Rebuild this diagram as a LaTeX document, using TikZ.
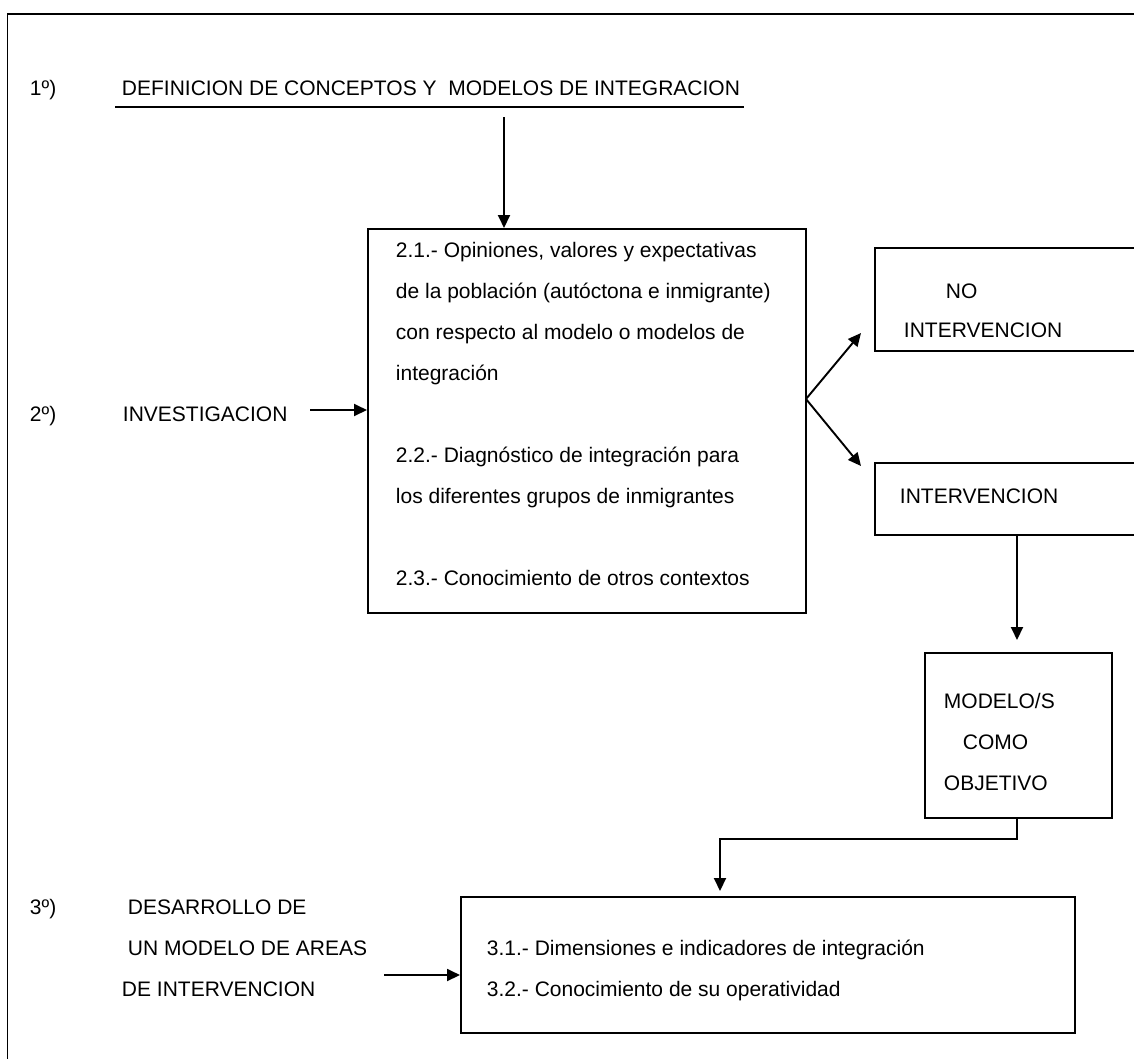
\documentclass[tikz,border=0pt]{standalone}
\usepackage{fontspec}
\setmainfont{Liberation Sans}
\usetikzlibrary{arrows.meta}
\begin{document}
\begin{tikzpicture}[x=1pt,y=-1pt,line width=1.9pt,
  txt/.style={font=\fontsize{21}{25}\selectfont, inner sep=0pt, anchor=base west},
  boxnode/.style={draw, line width=1.9pt, inner sep=0pt, anchor=north west},
  arr/.style={-{Triangle[length=13pt,width=12pt]}, line width=1.9pt}]
\useasboundingbox (0,0) rectangle (1134,1058);
\clip (0,0) rectangle (1134,1058);
% frame (open on the right and at the bottom)
\draw (1200,14) -- (7.5,14) -- (7.5,1100);

% step 1
\node[txt] (n1) at (29,95) {1º)};
\node[txt] (t1) at (121,95) {DEFINICION DE CONCEPTOS Y\ \ MODELOS DE INTEGRACION};
\coordinate (ulA) at (115,107);
\coordinate (ulB) at (744,107);
\draw (ulA) -- (ulB);

% step 2
\node[txt] (n2) at (29,421) {2º)};
\node[txt] (t2) at (122,421) {INVESTIGACION};

\node[boxnode, minimum width=438pt, minimum height=384pt] (b2) at (367,228) {};
\node[txt] (l1) at (395,257) {2.1.- Opiniones, valores y expectativas};
\node[txt] (l2) at (395,298) {de la población (autóctona e inmigrante)};
\node[txt] (l3) at (395,339) {con respecto al modelo o modelos de};
\node[txt] (l4) at (395,380) {integración};
\node[txt] (l5) at (395,462) {2.2.- Diagnóstico de integración para};
\node[txt] (l6) at (395,503) {los diferentes grupos de inmigrantes};
\node[txt] (l7) at (395,585) {2.3.- Conocimiento de otros contextos};

\node[boxnode, minimum width=300pt, minimum height=103pt] (bno) at (874,247) {};
\node[txt] (no1) at (945,298) {NO};
\node[txt] (no2) at (903,337) {INTERVENCION};

\node[boxnode, minimum width=300pt, minimum height=72pt] (bint) at (874,462) {};
\node[txt] (int) at (899,503) {INTERVENCION};

\node[boxnode, minimum width=187pt, minimum height=165pt] (bmod) at (924,652) {};
\node[txt] (m1) at (943,708) {MODELO/S};
\node[txt] (m2) at (962,749) {COMO};
\node[txt] (m3) at (943,790) {OBJETIVO};

% step 3
\node[txt] (n3) at (29,914) {3º)};
\node[txt] (d1) at (127,914) {DESARROLLO DE};
\node[txt] (d2) at (127,955) {UN MODELO DE AREAS};
\node[txt] (d3) at (121,996) {DE INTERVENCION};

\node[boxnode, minimum width=614pt, minimum height=136pt] (b3) at (460,896) {};
\node[txt] (s1) at (486,955) {3.1.- Dimensiones e indicadores de integración};
\node[txt] (s2) at (486,996) {3.2.- Conocimiento de su operatividad};

% connectors
\coordinate (c1) at (504,117);
\draw[arr] (c1) -- (c1 |- b2.north);
\coordinate (c2) at (310,410);
\draw[arr] (c2) -- (c2 -| b2.west);
\coordinate (fork) at (806,399);
\coordinate (tipA) at (861,333);
\coordinate (tipB) at (861,466);
\draw[arr] (fork) -- (tipA);
\draw[arr] (fork) -- (tipB);
\coordinate (c4) at (1017,534);
\coordinate (c4e) at (1017,640);
\draw[arr] (c4) -- (c4e);
\coordinate (c5) at (1017,817);
\coordinate (c5m) at (1017,839);
\coordinate (c5n) at (720,839);
\coordinate (c5e) at (720,891);
\draw[arr] (c5) -- (c5m) -- (c5n) -- (c5e);
\coordinate (c6) at (384,975);
\draw[arr] (c6) -- (c6 -| b3.west);
\end{tikzpicture}
\end{document}
